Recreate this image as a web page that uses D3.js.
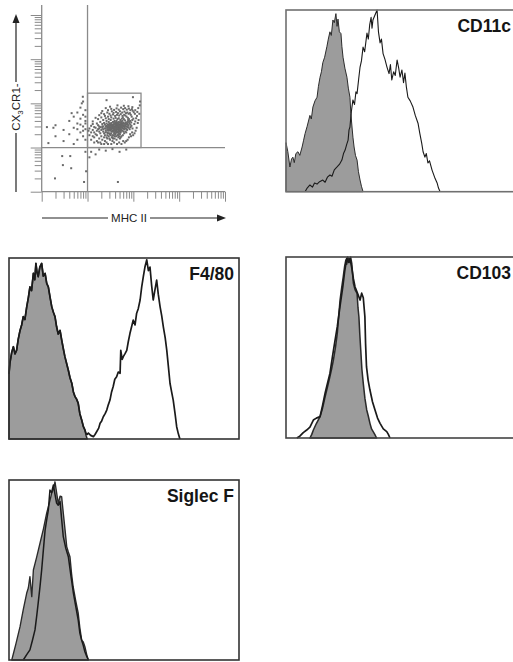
<!DOCTYPE html>
<html><head><meta charset="utf-8">
<script src="https://cdn.jsdelivr.net/npm/d3@7"></script>
<style>html,body{margin:0;padding:0;background:#fff;}svg{display:block;font-family:"Liberation Sans",Arial,sans-serif;}</style>
</head><body>
<script>
// ---------- DATA ----------
// Dot plot: [MHC II, CX3CR1] fluorescence (log axes, 1..10^4)
const dotCells = [
[22,30],[25,27],[28,33],[31,26],[35,29],[38,24],[42,31],[45,27],[27,22],[30,35],[33,21],[36,38],[40,20],[44,36],[48,25],[52,30],[55,34],[24,19],[26,40],[29,18],[32,42],[34,17],[37,33],[39,28],[41,23],[43,40],[46,19],[50,37],[53,22],[57,28],[60,32],[63,26],[20,25],[21,34],[23,21],[19,29],[18,23],[17,32],[26,31],[28,26],[30,29],[32,24],[34,32],[36,27],[38,35],[40,30],[42,26],[44,33],[47,29],[49,21],[51,27],[54,39],[58,24],[61,36],[65,30],[68,27],[72,33],[75,38],[70,22],[66,41],[62,44],[59,48],[56,45],[52,42],[48,46],[45,44],[41,47],[37,45],[33,48],[29,44],[25,46],[22,42],[19,38],[16,35],[15,28],[14,22],[16,19],[18,16],[21,15],[24,14],[27,16],[31,15],[35,14],[39,16],[43,15],[47,17],[51,16],[55,18],[59,19],[63,21],[67,23],[71,26],[74,29],[78,31],[82,35],[85,40],[80,44],[76,47],[71,50],[67,53],[63,55],[58,52],[53,57],[49,53],[44,55],[40,52],[36,56],[32,53],[28,50],[24,52],[20,48],[17,44],[26,35],[29,38],[31,31],[33,36],[35,24],[37,19],[39,40],[41,35],[43,28],[46,32],[48,38],[50,33],[52,25],[54,29],[56,36],[58,40],[60,27],[62,30],[64,35],[66,32],[69,37],[73,35],[77,42],[81,38],[86,33],[90,37],[95,42],[100,45],[92,50],[88,55],[84,60],[79,58],[74,62],[69,60],[64,65],[57,62],[51,66],[46,60],[42,64],[37,61],[34,66],[30,58],[27,62],[23,57],[20,60],[23,36],[27,28],[25,24],[30,21],[34,27],[36,31],[38,26],[40,37],[42,33],[44,22],[46,26],[48,30],[50,23],[53,34],[55,26],[57,31],[59,35],[61,23],[64,28],[67,34],[70,30],[73,25],[76,33],[79,28],[83,26],[87,29],[91,31],[96,27],[105,34],[110,39],[115,46],[120,52],[108,58],[102,63],[97,68],[93,74],[86,70],[80,76],[72,72],[66,78],[60,74],[54,80],[48,72],[43,77],[38,71],[33,75],[28,70],[25,78],[125,36],[130,42],[118,28],[112,24],[106,21],[99,19],[94,22],[89,18],[85,20],[80,17],[75,15],[70,14],[65,13],[60,14],[55,12],[49,13],[44,12],[38,13],[33,12],[28,12],[23,12],[19,13],[16,14],[14,17],[13,25],[12,31],[13,39],[15,47],[18,54],[21,67],[31,84],[45,90],[62,88],[78,86],[95,82],[110,70],[122,64],[135,58],[138,90],[128,78],[140,110],
[29,31],[32,28],[35,33],[38,30],[41,28],[44,30],[47,34],[50,28],[53,31],[56,29],[31,34],[34,30],[37,28],[40,33],[43,37],[46,35],[49,31],[52,36],[55,31],[58,33],[27,25],[30,25],[33,29],[36,24],[39,22],[42,24],[45,23],[48,27],[51,24],[54,24],
[15,20],[17,26],[19,21],[21,28],[23,17],[25,22],[27,19],[29,24],[31,20],[33,26],[35,19],[37,23],[39,18],[41,21],[43,25],[45,19],[47,23],[49,18],[51,20],[53,17],[13,18],[14,29],[16,24],[18,30],[20,18],[22,23],[24,27],[26,17],[28,21],[30,16],[32,19],[34,23],[36,16],[38,21],[40,25],[42,18],[44,27],[46,22],[48,20],[50,26],[12,22],[11,27],[12,15],[11,19],[10.5,24],[13,34],[14,13],[17,13],[20,12],[26,13],[35,17],[30,27],[27,30],[24,33],[21,30],[18,27],[22,26],[25,30],[28,29],[33,33],
[8,30],[7,22],[6,35],[9,40],[5,28],[4,20],[8,18],[9,26],[7,45],[6,15],[3,25],[2,32],[8,55],[5,50],[9,70],[4,40],[2,18],[3,14],[6,62],[7,80],[8,110],[5,12],[9,15],[9,50],[7,33],[6,26],[8,24],[9,35],[1.8,28],[4.5,60],[7.5,100],[7.9,141],[26,118],[98,138],[1.3,29],[1.4,12.6],
[2.8,6.4],[4.2,6.4],[2.9,4],[4.4,3.4],[1.95,2],[8.4,1.66],[9.3,2.9],[46,1.66],[12,8],[18,9],[25,8.5],[35,9.2],[50,8],[70,9],[15,7],[9,8],[11,6]
];
const gateX = 10, gateY = 10;           // quadrant lines
const boxCorner = [147, 170];           // upper-right corner of gate
const logTicks = [1,2,3,4,5,6,7,8,9,10,20,30,40,50,60,70,80,90,100,200,300,400,500,600,700,800,900,1000,2000,3000,4000,5000,6000,7000,8000,9000,10000];

// Histograms: [channel (0-100), % of max]
const panelLabels = ["CD11c","F4/80","CD103","Siglec F"];
const cd11cIso = [[0,0],[0,27],[0.8,22],[1.7,13.6],[2.4,18],[3,19],[3.6,16],[4.3,21],[5.2,22],[6,20],[7,24.6],[7.6,28],[8.3,32],[9.2,36],[10.4,42],[11,40],[11.7,46.6],[12.6,50],[13.5,52],[14.1,58],[14.8,63],[15.4,66],[16,71],[16.8,74],[17.8,80],[18.4,84],[19.1,88],[19.7,86],[20.4,94.5],[21,93],[21.7,98],[22.2,91],[22.6,95],[23.2,88],[23.9,87],[24.3,80],[24.8,74],[25.6,68],[26.5,63],[27.1,57],[27.8,52],[28.2,43],[28.7,35.6],[29.1,30],[29.6,24.6],[30.2,20],[30.9,17.4],[31.5,11],[32.2,6.4],[32.8,3],[33.5,0]];
const cd11cStain = [[8.3,0],[9.2,2],[10.4,3.7],[11.5,2.5],[12.4,4.8],[13.5,4.2],[14.6,5.5],[16,6.4],[17,5.2],[18,8],[19.1,9.2],[20,8.5],[21,12],[22.2,13.6],[23.2,15],[24.3,17.4],[25,21],[25.7,22.9],[26.4,26],[27,28.4],[27.4,34],[27.8,35.6],[28.4,44],[29.1,50.5],[29.8,48],[30.4,55],[30.9,54],[31.6,62],[32.2,68.6],[32.8,72],[33.5,79.6],[34.2,77],[35.2,87.3],[35.8,84],[36.4,92],[37,96],[37.4,90],[37.8,94.5],[38.6,97],[39.6,100],[40.2,88],[40.9,81.9],[41.5,84],[42.2,76],[43,73],[43.9,68.6],[44.8,65],[45.4,70],[46,61.5],[46.8,66],[47.5,64],[48.3,72.5],[49,68],[49.6,63],[50.4,67],[51.1,60],[51.7,65.3],[52.3,58],[53,52],[54,50],[55.2,46.6],[56.2,42],[57.4,37.7],[58.2,32],[59,26.7],[59.6,22],[60.4,19],[61,21],[61.7,15.8],[62.4,17],[63.5,11.9],[64.6,8],[65.7,4.8],[66.3,2],[67,0]];
const f480Iso = [[0,0],[0,36],[0.4,42],[1.2,48],[1.9,51],[2.6,47],[3.3,49],[4,55],[4.8,60],[5.5,63],[6.2,67.6],[6.9,66],[7.7,73],[8.4,78],[9.1,84],[9.8,82],[10.6,91.5],[11.2,88],[11.7,97],[12.2,92],[12.7,89.7],[13.4,95],[14.2,97],[14.9,90],[15.7,91.5],[16.4,86],[17.1,84],[17.9,78],[18.6,73],[19.3,70],[20,67.6],[20.7,62],[21.4,58],[22.2,60],[22.9,54.7],[23.6,50],[24.3,45.5],[25,42],[25.8,38],[26.5,34],[27.3,30.8],[28,26],[28.7,23.4],[29.4,22],[30.1,19.7],[30.8,14],[31.6,10.5],[32.3,7],[33,5],[33.5,2],[34,0]];
const f480Stain = [[0,36],[0.4,42],[1.2,48],[1.9,51],[2.6,47],[3.3,49],[4,55],[4.8,60],[5.5,63],[6.2,67.6],[6.9,66],[7.7,73],[8.4,78],[9.1,84],[9.8,82],[10.6,91.5],[11.2,88],[11.7,97],[12.2,92],[12.7,89.7],[13.4,95],[14.2,97],[14.9,90],[15.7,91.5],[16.4,86],[17.1,84],[17.9,78],[18.6,73],[19.3,70],[20,67.6],[20.7,62],[21.4,58],[22.2,60],[22.9,54.7],[23.6,50],[24.3,45.5],[25,42],[25.8,38],[26.5,34],[27.3,30.8],[28,26],[28.7,23.4],[29.4,22],[30.1,19.7],[30.8,14],[31.6,10.5],[32.3,7],[33,5],[33.5,3],[34,2.5],[34.5,3.3],[35.5,2],[36.7,1.3],[37.4,2.5],[38.1,4],[39,6],[39.6,8.7],[40.3,10],[41,12.3],[41.8,14],[42.5,16],[43.2,19],[43.9,21.5],[44.6,26],[45.3,29],[46,33],[46.8,34.4],[47.5,37],[48.3,36.3],[48.6,49],[49.2,44],[49.7,45.5],[50.4,47],[51.2,49],[51.9,54],[52.6,58.4],[53.3,62],[54,65.7],[54.8,63],[55.5,69.5],[56.2,72],[57,76.8],[57.7,84],[58.4,89.7],[59.1,95],[59.9,99],[60.6,93],[61.3,95],[62,85],[62.7,76.8],[63.4,82],[64.2,87.8],[64.9,80],[65.7,73],[66.4,68],[67.1,62],[67.9,56],[68.6,49],[69.3,40],[70,30.8],[70.7,26],[71.4,21.5],[72.2,14],[72.9,6.8],[73.6,3],[74.3,0]];
const cd103Iso = [[10.4,0],[11.2,2],[11.9,4.4],[13.2,8],[14.8,11.8],[15.8,16],[17,22.8],[18,28],[19.1,33.9],[19.8,38],[20.6,43],[21.5,50],[22.3,57.8],[22.9,67],[23.5,76.2],[24.2,83],[24.9,89.1],[25.5,95],[26,98.3],[26.4,96],[26.8,100],[27.1,99.2],[27.6,97],[28.1,100],[28.6,96.5],[29,90],[29.3,85.4],[30,82],[30.9,79.9],[31.3,72],[31.7,67],[32.1,57],[32.5,48.6],[33,38],[33.6,30.2],[34.3,22],[35.1,15.5],[35.8,12],[36.5,8.1],[37.2,5],[37.9,3.5],[38.6,2],[39.4,0]];
const cd103Stain = [[4.7,0],[6,1],[7.5,3],[9,4.4],[10.4,6],[11.9,9.9],[13.2,11],[14.8,11.8],[15.9,18],[17,24.7],[18,30],[19.1,35.7],[20.2,45],[21.2,53],[22.3,61.5],[23.5,73],[24.7,83.6],[25.5,92],[26.4,99.2],[27.1,97],[27.8,99.2],[28.6,94],[29.3,88],[30,83.6],[31.1,80],[32.2,76.2],[32.9,80],[33.6,77.5],[34.3,67],[34.6,52],[35,39.4],[35.7,32],[36.5,26.5],[37.6,20],[38.7,15.5],[39.8,11],[40.9,8.1],[42.3,5],[43.8,3.5],[44.5,2],[45.2,0]];
const siglecIso = [[1.2,0],[3,9],[4.8,18.5],[6.2,28],[7.7,37.2],[8.4,40],[9.1,46.3],[9.9,35.2],[10.6,50],[12,57],[13.5,65],[15,73],[16.4,81.7],[17.5,87],[18.6,92.8],[19.3,95],[20,99],[20.7,93],[21.4,87],[22.2,91],[22.9,90.7],[23.6,81.7],[24.4,72],[25.1,63],[25.8,60],[26.5,57.4],[27.2,48],[27.9,40.7],[29,33],[30.1,26],[30.8,18],[31.6,11],[32.3,10],[33,7.4],[33.8,3],[34.5,0]];
const siglecStain = [[6.2,0],[7.7,3],[9.1,5.6],[10.2,11],[11.3,16.7],[12,24],[12.7,31.7],[13.5,41],[14.2,50],[15,62],[15.7,72.2],[16.4,78],[17.1,83.3],[17.8,94.4],[18.5,93],[19.3,97.2],[20,92],[20.7,87.2],[21.4,86],[22.2,88],[22.9,78],[23.6,68.5],[24.7,62],[25.8,57.4],[26.9,47],[28,37.2],[29,30],[30.1,22.2],[30.8,15],[31.6,11],[32.3,8],[33,4.6],[33.8,2],[34.5,0]];

// ---------- DRAW ----------
const W = 513, H = 662;
const svg = d3.select("body").append("svg").attr("width", W).attr("height", H);

// Dot plot
const sx = d3.scaleLog().domain([1, 10000]).range([41.7, 225]);
const sy = d3.scaleLog().domain([1, 10000]).range([191.7, 15]);
const axCol = "#8a8a8a";
const dp = svg.append("g");
const isMajor = v => Math.abs(Math.log10(v) - Math.round(Math.log10(v))) < 1e-9;

const xAx = dp.append("g").attr("transform", `translate(0,${sy(1)})`)
  .call(d3.axisBottom(sx).tickValues(logTicks).tickFormat("").tickSize(7).tickSizeOuter(0));
const yAx = dp.append("g").attr("transform", `translate(${sx(1)},0)`)
  .call(d3.axisLeft(sy).tickValues(logTicks).tickFormat("").tickSize(7).tickSizeOuter(0));
[xAx, yAx].forEach(g => {
  g.select(".domain").remove();
  g.selectAll(".tick line").attr("stroke", axCol).attr("stroke-width", 1);
});
xAx.selectAll(".tick").filter(d => isMajor(d)).select("line").attr("y2", 10);
yAx.selectAll(".tick").filter(d => isMajor(d)).select("line").attr("x2", -11);
dp.append("line").attr("x1", sx(1)).attr("x2", sx(10000)).attr("y1", sy(1)).attr("y2", sy(1)).attr("stroke", axCol).attr("stroke-width", 1.3);
dp.append("line").attr("x1", sx(1)).attr("x2", sx(1)).attr("y1", sy(1)).attr("y2", 5).attr("stroke", axCol).attr("stroke-width", 1.3);
// quadrant lines
dp.append("line").attr("x1", sx(gateX)).attr("x2", sx(gateX)).attr("y1", sy(1)).attr("y2", 5).attr("stroke", axCol).attr("stroke-width", 1.3);
dp.append("line").attr("x1", sx(1)).attr("x2", sx(10000)).attr("y1", sy(gateY)).attr("y2", sy(gateY)).attr("stroke", axCol).attr("stroke-width", 1.3);
// gate box
dp.append("rect").attr("x", sx(gateX)).attr("y", sy(boxCorner[1]))
  .attr("width", sx(boxCorner[0]) - sx(gateX)).attr("height", sy(gateY) - sy(boxCorner[1]))
  .attr("fill", "none").attr("stroke", axCol).attr("stroke-width", 1.3);
// dots
dp.append("g").selectAll("rect").data(dotCells).join("rect")
  .attr("x", d => sx(d[0]) - 1).attr("y", d => sy(d[1]) - 1)
  .attr("width", 2).attr("height", 2).attr("fill", "#6a6a6a");

// axis labels with arrows
const lab = svg.append("g").attr("fill", "#222").attr("stroke", "#222");
lab.append("line").attr("x1", 42).attr("x2", 108).attr("y1", 218).attr("y2", 218).attr("stroke-width", 1.2);
lab.append("line").attr("x1", 150).attr("x2", 220).attr("y1", 218).attr("y2", 218).attr("stroke-width", 1.2);
lab.append("path").attr("d", "M226,218 L217,214.5 L217,221.5 Z").attr("stroke", "none");
lab.append("text").attr("x", 129).attr("y", 222).attr("text-anchor", "middle").attr("stroke", "none")
  .attr("font-size", 11.5).text("MHC II");
lab.append("line").attr("x1", 16).attr("x2", 16).attr("y1", 192).attr("y2", 133).attr("stroke-width", 1.2);
lab.append("line").attr("x1", 16).attr("x2", 16).attr("y1", 82).attr("y2", 22).attr("stroke-width", 1.2);
lab.append("path").attr("d", "M16,14 L12.5,23 L19.5,23 Z").attr("stroke", "none");
const yt = lab.append("text").attr("transform", "translate(20,107) rotate(-90)").attr("text-anchor", "middle")
  .attr("stroke", "none").attr("font-size", 11.5);
yt.append("tspan").text("CX");
yt.append("tspan").attr("font-size", 8).attr("dy", 3).text("3");
yt.append("tspan").attr("dy", -3).text("CR1-");

// Histogram panels
const panels = [
  {x0: 286, y0: 10, h: 181.7, iso: cd11cIso, stain: cd11cStain, frame: "#707070", lw: 1.1},
  {x0: 9, y0: 258, h: 181, iso: f480Iso, stain: f480Stain, frame: "#333", lw: 1.7},
  {x0: 286, y0: 257, h: 181, iso: cd103Iso, stain: cd103Stain, frame: "#444", lw: 1.7},
  {x0: 9, y0: 480, h: 180, iso: siglecIso, stain: siglecStain, frame: "#333", lw: 1.5}
];
const pw = 230;
panels.forEach((p, i) => {
  const g = svg.append("g").attr("transform", `translate(${p.x0},${p.y0})`);
  const hx = d3.scaleLinear().domain([0, 100]).range([0, pw]);
  const hy = d3.scaleLinear().domain([0, 100]).range([p.h, 0]);
  const area = d3.area().x(d => hx(d[0])).y0(hy(0)).y1(d => hy(d[1]));
  const line = d3.line().x(d => hx(d[0])).y(d => hy(d[1]));
  g.append("path").datum(p.iso).attr("d", area).attr("fill", "#9c9c9c").attr("stroke", "#2a2a2a").attr("stroke-width", p.lw * 0.9).attr("stroke-linejoin", "round");
  g.append("path").datum(p.stain).attr("d", line).attr("fill", "none").attr("stroke", "#1a1a1a").attr("stroke-width", p.lw).attr("stroke-linejoin", "round");
  g.append("rect").attr("x", 0).attr("y", 0).attr("width", pw).attr("height", p.h)
    .attr("fill", "none").attr("stroke", p.frame).attr("stroke-width", 1.6);
  g.append("text").attr("x", pw - 5).attr("y", 22).attr("text-anchor", "end")
    .attr("font-size", 17.5).attr("font-weight", "bold").attr("fill", "#151515").text(panelLabels[i]);
});
</script>
</body></html>
